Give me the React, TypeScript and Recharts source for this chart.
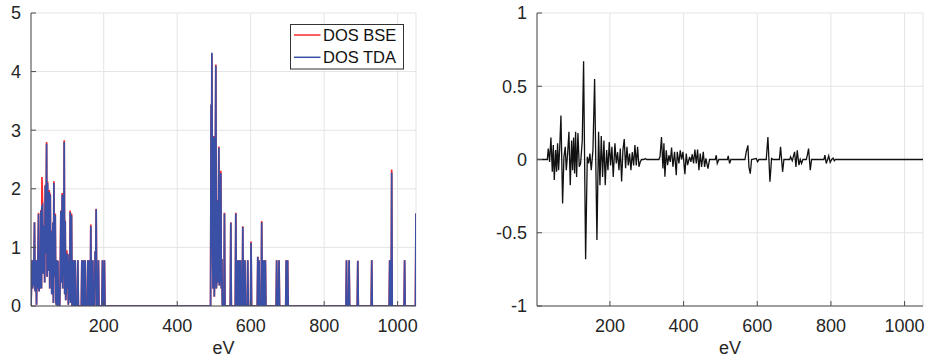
import React from 'react';
import { LineChart, Line, XAxis, YAxis, CartesianGrid } from 'recharts';

// tick values shared by both panels
const evTicks = [200, 400, 600, 800, 1000];
const dosTicks = [0, 1, 2, 3, 4, 5];
const diffTicks = [-1, -0.5, 0, 0.5, 1];
const legendLabels = ['DOS BSE', 'DOS TDA'];

// [eV, DOS]
const dosTda: [number, number][] = [
  [2, 0], [5, 0.78], [6.5, 0.3], [8, 0.78], [9.5, 0.35], [11.5, 1.43], [13, 0.25], [15.5, 0.78], [17, 0.02], [18.5, 0.78],
  [20, 0.3], [22.5, 1.57], [24, 0.25], [26, 0.55], [27.5, 0.3], [29, 1.62], [30.5, 0.3], [31.8, 1.7], [33.6, 1.72], [35, 0.55],
  [38, 1.37], [39.2, 0.4], [40.8, 2.05], [42.5, 0.9], [44.4, 2.77], [45.8, 0.5], [47.1, 2.1], [48.5, 0.8], [50, 0.6], [51.7, 1.95],
  [53, 0.3], [54.4, 1.9], [55.8, 0.55], [57.1, 1.28], [58.5, 0.2], [60, 0.5], [61.6, 1.42], [63, 0.05], [64.3, 2.1], [65.7, 0.5],
  [68, 1.55], [69.5, 0.1], [71, 0.02], [72.5, 0.78], [74, 0], [75.2, 0.77], [76.5, 0], [80, 0], [81.5, 0.5], [83.3, 1.62],
  [84.8, 0.4], [87, 1.9], [88.3, 0.3], [89.7, 1.85], [91, 0.5], [92.4, 2.8], [93.8, 0.2], [95.1, 1.45], [96.5, 0.1], [98, 0.3],
  [99.6, 0.9], [101, 0.3], [102.3, 0.88], [103.7, 0.02], [106, 0.78], [107.3, 0.1], [108.7, 1.6], [110, 0.05], [112.3, 1.55], [113.8, 0],
  [116.5, 0], [117.7, 0.78], [119, 0], [121, 0], [122.3, 0.78], [123.7, 0], [128, 0], [129.5, 0.78], [131, 0], [139, 0],
  [140.4, 0.78], [141.8, 0], [143, 0], [144.5, 0.78], [146, 0], [148, 0], [149.4, 0.78], [150.8, 0], [155.3, 0], [156.7, 0.78],
  [158, 0], [159, 0], [160.3, 0.78], [161.7, 0], [163.4, 0], [164.8, 1.36], [166.2, 0], [168.8, 0], [170.2, 0.78], [171.6, 0],
  [175.2, 0], [176.6, 0.93], [177.8, 0.3], [179.4, 1.65], [181, 0], [184.2, 0], [185.6, 0.78], [187, 0], [195, 0], [196.5, 0.78],
  [198, 0], [200.5, 0], [201.9, 0.78], [203.3, 0],
  [490.8, 0], [492.4, 3.44], [493.4, 1.0], [494.3, 4.32], [496, 0.98], [497.5, 0.3], [499.7, 2.89], [501, 0.16], [502.5, 0.9], [505.1, 4.1],
  [506.5, 0.3], [507.8, 0.44], [509.6, 1.8], [511, 0.4], [513.3, 2.7], [514.6, 0.35], [516, 0.5], [518.7, 2.27], [520, 0.3], [521.4, 0.8],
  [522.8, 0.02], [524.1, 0], [527.2, 0], [528.6, 1.58], [530, 0], [544.5, 0], [545.9, 1.42], [547.3, 0], [558.1, 0], [559.5, 1.58],
  [560.9, 0], [561.9, 0], [563.3, 0.78], [564.7, 0], [565.1, 0], [566.5, 0.78], [567.9, 0], [568.1, 0], [569.5, 0.78], [570.9, 0],
  [571.1, 0], [572.5, 0.78], [573.9, 0], [577.1, 0], [578.5, 1.35], [579.9, 0], [580.3, 0], [581.5, 0.78], [582.7, 0], [583.1, 0],
  [584.3, 0.78], [585.7, 0], [590.6, 0], [592, 0.78], [593.4, 0], [599.6, 0], [601, 1.08], [602.4, 0], [617.9, 0], [619.3, 0.84],
  [620.7, 0], [621.3, 0], [622.7, 0.78], [624.1, 0], [628.6, 0], [630, 1.43], [631.4, 0], [631.6, 0], [632.8, 0.78], [634.2, 0],
  [635.8, 0], [637.2, 0.78], [638.6, 0], [638.8, 0], [640, 0.78], [641.4, 0], [669.3, 0], [670.7, 0.78], [672.1, 0], [675.8, 0],
  [677.2, 0.78], [678.6, 0], [695.4, 0], [696.8, 0.78], [698.2, 0], [699.2, 0], [700.6, 0.78], [702, 0],
  [859.4, 0], [860.8, 0.78], [862.2, 0], [866.5, 0], [867.9, 0.78], [869.3, 0], [890.1, 0], [891.5, 0.77], [892.9, 0], [928.1, 0],
  [929.5, 0.78], [930.9, 0], [977, 0], [978.4, 0.78], [979.8, 0], [982.4, 0], [983.8, 2.28], [985.2, 0], [1017.6, 0], [1019, 0.78],
  [1020.4, 0], [1048.5, 0], [1050, 1.58],
];

const dosBse: [number, number][] = [
  [2, 0], [5, 0.78], [6.5, 0.3], [8, 0.78], [9.5, 0.35], [11.5, 1.43], [13, 0.25], [15.5, 0.78], [17, 0.02], [18.5, 0.78],
  [20, 0.3], [22.5, 1.59], [24, 0.25], [26, 0.55], [27.5, 0.3], [29, 1.64], [30.5, 0.3], [31.8, 2.2], [33.6, 1.72], [35, 0.55],
  [38, 1.38], [39.2, 0.4], [40.8, 2.07], [42.5, 0.9], [44.4, 2.8], [45.8, 0.5], [47.1, 2.13], [48.5, 0.8], [50, 0.6], [51.7, 1.98],
  [53, 0.3], [54.4, 1.92], [55.8, 0.55], [57.1, 1.29], [58.5, 0.2], [60, 0.5], [61.6, 1.43], [63, 0.05], [64.3, 2.13], [65.7, 0.5],
  [68, 1.58], [69.5, 0.1], [71, 0.02], [72.5, 0.78], [74, 0], [75.2, 0.77], [76.5, 0], [80, 0], [81.5, 0.5], [83.3, 1.63],
  [84.8, 0.4], [87, 1.93], [88.3, 0.3], [89.7, 1.86], [91, 0.5], [92.4, 2.83], [93.8, 0.2], [95.1, 1.46], [96.5, 0.1], [98, 0.3],
  [99.6, 0.95], [101, 0.3], [102.3, 0.89], [103.7, 0.02], [106, 0.78], [107.3, 0.1], [108.7, 1.63], [110, 0.05], [112.3, 1.58], [113.8, 0],
  [116.5, 0], [117.7, 0.78], [119, 0], [121, 0], [122.3, 0.78], [123.7, 0], [128, 0], [129.5, 0.78], [131, 0], [139, 0],
  [140.4, 0.78], [141.8, 0], [143, 0], [144.5, 0.78], [146, 0], [148, 0], [149.4, 0.78], [150.8, 0], [155.3, 0], [156.7, 0.78],
  [158, 0], [159, 0], [160.3, 0.78], [161.7, 0], [163.4, 0], [164.8, 1.39], [166.2, 0], [168.8, 0], [170.2, 0.78], [171.6, 0],
  [175.2, 0], [176.6, 0.94], [177.8, 0.3], [179.4, 1.66], [181, 0], [184.2, 0], [185.6, 0.78], [187, 0], [195, 0], [196.5, 0.78],
  [198, 0], [200.5, 0], [201.9, 0.78], [203.3, 0],
  [490.8, 0], [492.4, 3.44], [493.4, 1.0], [494.3, 4.3], [496, 0.98], [497.5, 0.3], [499.7, 2.9], [501, 0.16], [502.5, 0.9], [505.1, 4.12],
  [506.5, 0.3], [507.8, 0.44], [509.6, 1.81], [511, 0.4], [513.3, 2.72], [514.6, 0.35], [516, 0.5], [518.7, 2.31], [520, 0.3], [521.4, 0.8],
  [522.8, 0.02], [524.1, 0], [527.2, 0], [528.6, 1.59], [530, 0], [544.5, 0], [545.9, 1.43], [547.3, 0], [558.1, 0], [559.5, 1.59],
  [560.9, 0], [561.9, 0], [563.3, 0.78], [564.7, 0], [565.1, 0], [566.5, 0.78], [567.9, 0], [568.1, 0], [569.5, 0.78], [570.9, 0],
  [571.1, 0], [572.5, 0.78], [573.9, 0], [577.1, 0], [578.5, 1.36], [579.9, 0], [580.3, 0], [581.5, 0.78], [582.7, 0], [583.1, 0],
  [584.3, 0.78], [585.7, 0], [590.6, 0], [592, 0.78], [593.4, 0], [599.6, 0], [601, 1.1], [602.4, 0], [617.9, 0], [619.3, 0.84],
  [620.7, 0], [621.3, 0], [622.7, 0.78], [624.1, 0], [628.6, 0], [630, 1.45], [631.4, 0], [631.6, 0], [632.8, 0.78], [634.2, 0],
  [635.8, 0], [637.2, 0.78], [638.6, 0], [638.8, 0], [640, 0.78], [641.4, 0], [669.3, 0], [670.7, 0.78], [672.1, 0], [675.8, 0],
  [677.2, 0.78], [678.6, 0], [695.4, 0], [696.8, 0.78], [698.2, 0], [699.2, 0], [700.6, 0.78], [702, 0],
  [859.4, 0], [860.8, 0.78], [862.2, 0], [866.5, 0], [867.9, 0.78], [869.3, 0], [890.1, 0], [891.5, 0.77], [892.9, 0], [928.1, 0],
  [929.5, 0.78], [930.9, 0], [977, 0], [978.4, 0.78], [979.8, 0], [982.4, 0], [983.8, 2.33], [985.2, 0], [1017.6, 0], [1019, 0.78],
  [1020.4, 0], [1048.5, 0], [1050, 1.58],
];

// [eV, BSE - TDA]
const dosDiff: [number, number][] = [
  [2, 0], [30, 0], [32.6, 0.075], [36.2, -0.016], [39.8, 0.15], [43.5, -0.084], [46.2, 0.098], [48.9, -0.14], [52.5, 0.064], [55.2, -0.084],
  [57.9, 0.11], [60.6, -0.073], [63.4, 0.064], [67, 0.3], [71.5, -0.3], [75.1, 0.018], [78.7, 0.086], [81.5, -0.073], [85.1, 0.04], [88.7, 0.19],
  [92.3, -0.175], [96, 0.13], [98.7, -0.073], [101.4, 0.15], [104.1, -0.095], [106.8, 0.19], [109.5, -0.12], [113.1, 0.18], [116.8, -0.05], [120.4, -0.027],
  [124.9, 0.13], [128.5, 0.67], [134, -0.68], [138.5, 0.018], [142.1, -0.027], [145.7, 0.04], [149.3, -0.073], [153.9, 0.064], [158.4, 0.55], [164.7, -0.55],
  [169.2, 0.19], [172.9, -0.175], [176.5, 0.16], [180.1, -0.12], [183.7, 0.13], [187.3, -0.175], [191, 0.064], [194.6, -0.073], [198.2, 0.12], [201.8, -0.04],
  [205.4, 0.086], [209, -0.12], [213.6, 0.11], [217.2, -0.027], [220.8, 0.05], [224.5, -0.073], [228.1, 0.075], [231.7, -0.15], [235.3, 0.064], [238.9, 0.14],
  [242.5, -0.06], [246.2, 0.086], [249.8, -0.04], [253.4, 0.04], [257, -0.073], [260.6, 0.05], [264.3, -0.04], [267.9, 0.098], [271.5, -0.04], [275.1, 0.086],
  [278.8, -0.05], [282.4, -0.016], [286, 0], [292, 0], [296, 0.007], [300, 0], [333, 0], [336, 0.02], [340, 0.154], [343.9, -0.062],
  [346.6, 0.11], [349.3, -0.118], [352.9, 0.063], [356.5, -0.039], [360.2, 0.029], [363.8, -0.016], [367.4, 0.082], [371, -0.05], [375.5, 0.052], [380.1, -0.107],
  [382.8, 0.052], [387.3, -0.027], [390.9, 0.063], [394.5, 0], [398.2, 0.052], [403.6, -0.1], [407.2, 0.041], [410.8, -0.039], [416.3, 0.018], [419.9, -0.016],
  [423.5, 0.036], [427.1, -0.027], [430.7, 0.068], [434.4, -0.027], [438, 0.068], [441.6, -0.073], [445.2, 0.041], [448.8, -0.05], [453.4, 0.052], [457, -0.05],
  [460.6, 0.007], [466, -0.062], [470.6, 0], [486, 0], [488.7, 0.029], [491.4, -0.027], [495.9, 0], [519, 0], [521.2, 0.025], [524.9, -0.027],
  [528.5, 0], [566.5, 0], [570.1, 0.052], [574.6, 0.097], [577.4, -0.05], [581, -0.096], [584.6, 0], [597.3, 0.007], [600.9, -0.016], [604.5, 0],
  [624.4, 0], [628.9, 0.154], [634.4, -0.152], [638.9, 0.007], [643, 0], [660, 0], [663.3, 0.086], [668.8, -0.084], [672.4, 0], [688, 0],
  [690.5, 0.018], [695, -0.009], [701.3, 0.052], [705, -0.05], [708.6, 0.063], [713.1, -0.039], [716.7, 0], [720.3, -0.027], [724, 0], [733, 0],
  [736, 0.03], [739.3, 0.075], [743.9, -0.073], [747.5, 0], [781, 0], [783.7, 0.03], [787.3, -0.027], [791, 0], [794, 0.025], [798, -0.02],
  [802, 0], [806, 0.01], [809, -0.009], [812, 0], [1050, 0],
];

const toRows = (pts: [number, number][]) => pts.map(([x, y]) => ({ x, y }));

const FONT = '"Liberation Sans", Arial, Helvetica, sans-serif';
const tickStyle = { fontSize: 18, fill: '#262626', fontFamily: FONT };
const axisStroke = { stroke: '#4d4d4d', strokeWidth: 1 };
const RED = '#ff2a2a';
const BLUE = '#3a4fa6';

const frameAxes = (yDomain: number[], yTicks: number[]) => [
  <XAxis key="xt" xAxisId="top" orientation="top" type="number" dataKey="x" domain={[2, 1050]} ticks={evTicks}
    allowDataOverflow height={0} tick={false} tickSize={-5} axisLine={axisStroke} tickLine={axisStroke} />,
  <YAxis key="yr" yAxisId="right" orientation="right" type="number" domain={yDomain} ticks={yTicks}
    allowDataOverflow width={0} tick={false} tickSize={-5} axisLine={axisStroke} tickLine={axisStroke} />,
];

const bottomAxis = (
  <XAxis type="number" dataKey="x" domain={[2, 1050]} ticks={evTicks} allowDataOverflow height={48}
    tick={tickStyle} tickSize={-5} tickMargin={18} axisLine={axisStroke} tickLine={axisStroke}
    label={{ value: 'eV', position: 'insideBottom', offset: 0, style: { fontSize: 18, fill: '#262626', fontFamily: FONT } }} />
);

export default function App() {
  return (
    <div style={{ position: 'absolute', left: 0, top: 0, width: 927, height: 358, background: '#fff' }}>
      <div style={{ position: 'absolute', left: 0, top: 0 }}>
        <LineChart width={430} height={358} margin={{ top: 13, right: 14, bottom: 4, left: 0 }}>
          <CartesianGrid stroke="#e4e4e4" />
          {bottomAxis}
          <YAxis type="number" domain={[0, 5]} ticks={dosTicks} allowDataOverflow width={31}
            tick={tickStyle} tickSize={-5} tickMargin={15} axisLine={axisStroke} tickLine={axisStroke} />
          {frameAxes([0, 5], dosTicks)}
          <Line data={toRows(dosBse)} dataKey="y" type="linear" stroke={RED} strokeWidth={1.7}
            dot={false} activeDot={false} isAnimationActive={false} name={legendLabels[0]} />
          <Line data={toRows(dosTda)} dataKey="y" type="linear" stroke={BLUE} strokeWidth={1.7}
            dot={false} activeDot={false} isAnimationActive={false} name={legendLabels[1]} />
        </LineChart>
        <svg width={115} height={46} style={{ position: 'absolute', left: 290, top: 24 }}>
          <rect x={0.5} y={0.5} width={113} height={44.5} fill="#fff" stroke="#333" strokeWidth={1} />
          {legendLabels.map((label, i) => (
            <g key={label}>
              <line x1={4} x2={30.5} y1={11 + i * 22.3} y2={11 + i * 22.3} stroke={i === 0 ? RED : BLUE} strokeWidth={1.5} />
              <text x={33} y={17 + i * 22.3} fontSize={16.5} fontFamily={FONT} fill="#111">{label}</text>
            </g>
          ))}
        </svg>
      </div>
      <div style={{ position: 'absolute', left: 480, top: 0 }}>
        <LineChart width={447} height={358} margin={{ top: 13, right: 4, bottom: 4, left: 0 }}>
          <CartesianGrid stroke="#e4e4e4" />
          {bottomAxis}
          <YAxis type="number" domain={[-1, 1]} ticks={diffTicks} allowDataOverflow width={57}
            tick={tickStyle} tickSize={-5} tickMargin={15} axisLine={axisStroke} tickLine={axisStroke} />
          {frameAxes([-1, 1], diffTicks)}
          <Line data={toRows(dosDiff)} dataKey="y" type="linear" stroke="#111" strokeWidth={1.3}
            dot={false} activeDot={false} isAnimationActive={false} />
        </LineChart>
      </div>
    </div>
  );
}
